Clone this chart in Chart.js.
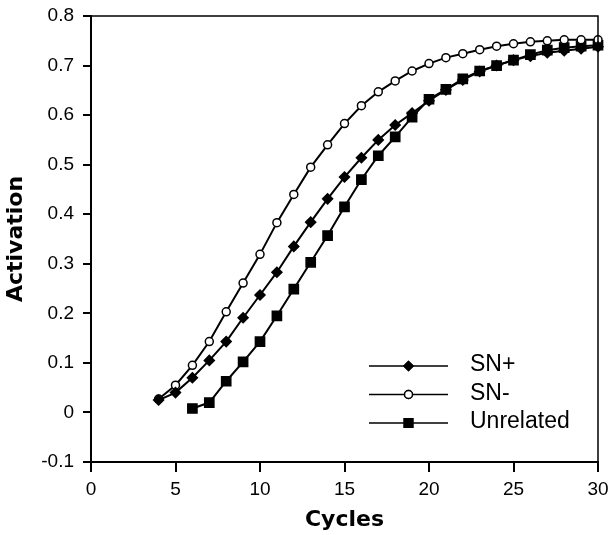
<!DOCTYPE html>
<html>
<head>
<meta charset="utf-8">
<script src="https://cdn.jsdelivr.net/npm/chart.js@4.4.1/dist/chart.umd.min.js"></script>
<style>
	body { margin: 0; background: #fff; }
	#grafica { display: block; }
</style>
</head>
<body>
<canvas id="grafica" width="610" height="535"></canvas>
<script>
var cycles = [4, 5, 6, 7, 8, 9, 10, 11, 12, 13, 14, 15, 16, 17, 18, 19, 20, 21, 22, 23, 24, 25, 26, 27, 28, 29, 30];
var snPlus = [0.025, 0.040, 0.070, 0.105, 0.143, 0.191, 0.237, 0.283, 0.335, 0.384, 0.431, 0.475, 0.514, 0.550, 0.580, 0.604, 0.629, 0.651, 0.671, 0.688, 0.700, 0.711, 0.719, 0.726, 0.730, 0.734, 0.738];
var snMinus = [0.027, 0.055, 0.095, 0.143, 0.203, 0.261, 0.319, 0.383, 0.440, 0.495, 0.540, 0.583, 0.619, 0.647, 0.669, 0.689, 0.704, 0.716, 0.724, 0.732, 0.739, 0.744, 0.748, 0.750, 0.752, 0.752, 0.752];
var unrelated = [null, null, 0.008, 0.020, 0.063, 0.102, 0.143, 0.195, 0.249, 0.303, 0.357, 0.415, 0.470, 0.518, 0.556, 0.596, 0.632, 0.652, 0.673, 0.689, 0.700, 0.711, 0.722, 0.731, 0.736, 0.739, 0.741];
var seriesNames = ["SN+", "SN-", "Unrelated"];

function puntos(valores) {
	var out = [];
	for (var i = 0; i < cycles.length; i++) {
		if (valores[i] !== null) out.push({x: cycles[i], y: valores[i]});
	}
	return out;
}

// legend drawn inside the plot, line + marker + label
var leyenda = {
	id: 'leyenda',
	afterDraw: function(chart) {
		var ctx = chart.ctx;
		var area = chart.chartArea;
		// frame: top and right sides
		ctx.save();
		ctx.strokeStyle = '#000';
		ctx.lineWidth = 1.5;
		ctx.beginPath();
		ctx.moveTo(area.left, area.top);
		ctx.lineTo(area.right, area.top);
		ctx.lineTo(area.right, area.bottom);
		ctx.stroke();

		var x0 = area.right - 229, x1 = area.right - 150;
		var y0 = area.top + 350;
		chart.data.datasets.forEach(function(ds, i) {
			var y = y0 + i * 28.5;
			ctx.strokeStyle = '#000';
			ctx.lineWidth = 1.5;
			ctx.beginPath();
			ctx.moveTo(x0, y);
			ctx.lineTo(x1, y);
			ctx.stroke();
			var r = ds.pointStyle === 'circle' ? 4 : ds.pointRadius - 0.5;
			Chart.helpers.drawPoint(ctx, {
				pointStyle: ds.pointStyle, radius: r, borderWidth: ds.pointBorderWidth
			}, (x0 + x1) / 2, y);
			ctx.fillStyle = ds.pointBackgroundColor;
			ctx.strokeStyle = '#000';
			ctx.lineWidth = ds.pointBorderWidth;
			ctx.fill();
			ctx.stroke();
			ctx.fillStyle = '#000';
			ctx.font = '23px "Liberation Sans", Arial, sans-serif';
			ctx.textBaseline = 'middle';
			ctx.textAlign = 'left';
			ctx.fillText(ds.label, x1 + 22, y - 1);
		});
		ctx.restore();
	}
};

var ctx = document.getElementById('grafica');
var estilo = {
	borderColor: '#000',
	borderWidth: 2,
	pointBorderColor: '#000',
	pointBorderWidth: 1.5,
	fill: false,
	tension: 0,
	clip: false
};
var myLineChart = new Chart(ctx, {
	type: 'line',
	data: {
		datasets: [
			Object.assign({}, estilo, {label: seriesNames[0], data: puntos(snPlus), pointStyle: 'rectRot', pointRadius: 5, pointBackgroundColor: '#000'}),
			Object.assign({}, estilo, {label: seriesNames[1], data: puntos(snMinus), pointStyle: 'circle', pointRadius: 4, pointBackgroundColor: '#fff'}),
			Object.assign({}, estilo, {label: seriesNames[2], data: puntos(unrelated), pointStyle: 'rect', pointRadius: 6.5, pointBackgroundColor: '#000'})
		]
	},
	options: {
		responsive: false,
		animation: false,
		layout: { padding: {top: 16, right: 12, left: 0, bottom: 0} },
		plugins: { legend: { display: false }, tooltip: { enabled: false } },
		scales: {
			x: {
				type: 'linear',
				min: 0, max: 30,
				ticks: { stepSize: 5, color: '#000', padding: 6, font: {family: '"Liberation Sans", Arial, sans-serif', size: 19} },
				grid: { drawOnChartArea: false, drawTicks: true, tickLength: 10, color: '#000', lineWidth: 2 },
				border: { color: '#000', width: 2 },
				title: { display: true, text: 'Cycles', color: '#000', padding: {top: 0, bottom: 2}, font: {family: '"DejaVu Sans", sans-serif', size: 22, weight: 'bold'} },
				afterFit: function(s) { s.height = 73; s.paddingLeft = 0; s.paddingRight = 0; }
			},
			y: {
				min: -0.1, max: 0.8,
				ticks: { stepSize: 0.1, color: '#000', padding: 9, font: {family: '"Liberation Sans", Arial, sans-serif', size: 19} },
				grid: { drawOnChartArea: false, drawTicks: true, tickLength: 8, color: '#000', lineWidth: 2 },
				border: { color: '#000', width: 2 },
				title: { display: true, text: 'Activation', color: '#000', padding: {top: 3, bottom: 0}, font: {family: '"DejaVu Sans", sans-serif', size: 22, weight: 'bold'} },
				afterFit: function(s) { s.width = 91; s.paddingTop = 0; s.paddingBottom = 0; }
			}
		}
	},
	plugins: [leyenda]
});
</script>
</body>
</html>
